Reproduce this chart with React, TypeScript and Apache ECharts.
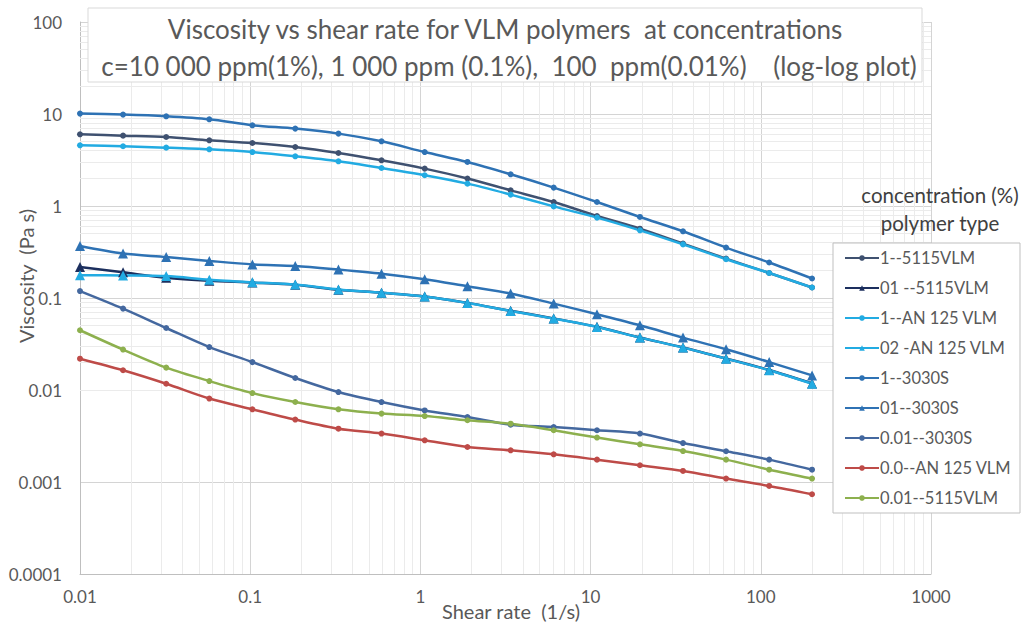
import React, { useEffect, useRef } from "react";
import * as echarts from "echarts";

// Shear rates of the sweep (1/s)
const shearRate = [0.01, 0.0179, 0.0321, 0.0575, 0.103, 0.184, 0.33, 0.591, 1.06, 1.89, 3.39, 6.07, 10.9, 19.5, 34.9, 62.5, 112, 200];

// Viscosity (Pa s) for each polymer / concentration
const visc1_5115VLM = [6.02, 5.82, 5.62, 5.18, 4.84, 4.38, 3.77, 3.14, 2.55, 1.99, 1.48, 1.105, 0.779, 0.567, 0.39, 0.268, 0.187, 0.13];
const visc01_5115VLM = [0.217, 0.19, 0.166, 0.154, 0.147, 0.139, 0.123, 0.114, 0.104, 0.0885, 0.0725, 0.06, 0.0486, 0.0372, 0.029, 0.022, 0.0165, 0.0118];
const visc1_AN125VLM = [4.57, 4.46, 4.31, 4.13, 3.86, 3.47, 3.06, 2.59, 2.16, 1.75, 1.33, 0.99, 0.748, 0.544, 0.383, 0.264, 0.187, 0.13];
const visc02_AN125VLM = [0.177, 0.176, 0.173, 0.158, 0.148, 0.14, 0.124, 0.114, 0.104, 0.0883, 0.0722, 0.0597, 0.0484, 0.0371, 0.0289, 0.0219, 0.0164, 0.0117];
const visc1_3030S = [10.1, 9.85, 9.44, 8.76, 7.54, 6.94, 6.12, 5.05, 3.86, 3.01, 2.21, 1.585, 1.105, 0.76, 0.531, 0.353, 0.243, 0.163];
const visc01_3030S = [0.367, 0.304, 0.279, 0.253, 0.232, 0.223, 0.204, 0.184, 0.16, 0.134, 0.112, 0.0869, 0.0665, 0.0505, 0.0371, 0.0277, 0.0201, 0.0144];
const visc001_3030S = [0.119, 0.0767, 0.0472, 0.0293, 0.0201, 0.0135, 0.0095, 0.0074, 0.006, 0.00509, 0.0042, 0.00396, 0.00365, 0.00336, 0.00265, 0.00216, 0.00175, 0.00136];
const visc00_AN125VLM = [0.0219, 0.0164, 0.0117, 0.00807, 0.00617, 0.00477, 0.0038, 0.00336, 0.00284, 0.0024, 0.00221, 0.002, 0.00175, 0.00152, 0.00132, 0.00109, 0.000906, 0.000736];
const visc001_5115VLM = [0.0446, 0.0275, 0.0175, 0.0125, 0.00927, 0.00741, 0.00617, 0.00554, 0.00521, 0.00469, 0.0043, 0.00365, 0.00304, 0.00257, 0.00217, 0.00175, 0.00136, 0.00109];

const seriesNames = [
  "1--5115VLM",
  "01 --5115VLM",
  "1--AN 125 VLM",
  "02 -AN 125 VLM",
  "1--3030S",
  "01--3030S",
  "0.01--3030S",
  "0.0--AN 125 VLM",
  "0.01--5115VLM",
];
const seriesValues = [
  visc1_5115VLM,
  visc01_5115VLM,
  visc1_AN125VLM,
  visc02_AN125VLM,
  visc1_3030S,
  visc01_3030S,
  visc001_3030S,
  visc00_AN125VLM,
  visc001_5115VLM,
];
const seriesColors = ["#3F5170", "#1C2F5E", "#22ABE2", "#22ABE2", "#2E72B4", "#2E72B4", "#44689F", "#BE4B48", "#8DB04E"];
const seriesSymbols = ["circle", "triangle", "circle", "triangle", "circle", "triangle", "circle", "circle", "circle"];

// Axis tick labels (one per decade)
const xTickLabels = ["0.01", "0.1", "1", "10", "100", "1000"];
const yTickLabels = ["0.0001", "0.001", "0.01", "0.1", "1", "10", "100"];

// Minor log gridlines: 2..9 inside every decade
const minorFactors = [2, 3, 4, 5, 6, 7, 8, 9];
const xDecades = [0.01, 0.1, 1, 10, 100];
const yDecades = [0.0001, 0.001, 0.01, 0.1, 1, 10];

const titleLine1 = "Viscosity vs shear rate for VLM polymers  at concentrations";
const titleLine2 = "c=10 000 ppm(1%), 1 000 ppm (0.1%),  100  ppm(0.01%)    (log-log plot)";

const FONT = "Lato, 'Noto Sans', sans-serif";
const TEXT = "#595959";

export default function App() {
  const ref = useRef<HTMLDivElement>(null);

  useEffect(() => {
    if (!ref.current) return;
    const chart = echarts.init(ref.current, undefined, { renderer: "svg" });

    const xMinor: number[] = [];
    xDecades.forEach((d) => minorFactors.forEach((f) => xMinor.push(d * f)));
    const yMinor: number[] = [];
    yDecades.forEach((d) => minorFactors.forEach((f) => yMinor.push(d * f)));

    const dataSeries = seriesNames.map((name, i) => ({
      name,
      type: "line",
      data: shearRate.map((x, j) => [x, seriesValues[i][j]]),
      smooth: 0.3,
      symbol: seriesSymbols[i],
      symbolSize: seriesSymbols[i] === "triangle" ? 10 : 6,
      lineStyle: { width: 2.5, color: seriesColors[i] },
      itemStyle: { color: seriesColors[i], borderWidth: 0 },
      z: 3,
    }));

    const option: any = {
      animation: false,
      backgroundColor: "#ffffff",
      textStyle: { fontFamily: FONT },
      grid: { left: 80, top: 22, width: 851, height: 552, containLabel: false },
      xAxis: {
        type: "log",
        logBase: 10,
        min: 0.01,
        max: 1000,
        splitNumber: 5,
        axisLine: { show: true, lineStyle: { color: "#bfbfbf", width: 1 } },
        axisTick: { show: false },
        splitLine: { show: true, lineStyle: { color: "#d4d4d4", width: 1 } },
        axisLabel: {
          color: TEXT,
          fontSize: 17,
          fontFamily: FONT,
          margin: 14,
          formatter: (v: number) => xTickLabels[Math.round(Math.log10(v)) + 2],
        },
      },
      yAxis: {
        type: "log",
        logBase: 10,
        min: 0.0001,
        max: 100,
        splitNumber: 6,
        axisLine: { show: true, lineStyle: { color: "#bfbfbf", width: 1 } },
        axisTick: { show: false },
        splitLine: { show: true, lineStyle: { color: "#d4d4d4", width: 1 } },
        axisLabel: {
          color: TEXT,
          fontSize: 17,
          fontFamily: FONT,
          margin: 18,
          formatter: (v: number) => yTickLabels[Math.round(Math.log10(v)) + 4],
        },
      },
      legend: {
        orient: "vertical",
        left: 844,
        top: 249.5,
        padding: 0,
        itemWidth: 34,
        itemHeight: 7,
        itemGap: 13,
        data: seriesNames,
        textStyle: { color: TEXT, fontSize: 16.5, lineHeight: 17, fontFamily: FONT, padding: [0, 0, 0, -4] },
        z: 20,
      },
      graphic: [
        {
          type: "rect",
          z: 10,
          shape: { x: 88, y: 8, width: 834, height: 74 },
          style: { fill: "#ffffff", stroke: "#d9d9d9", lineWidth: 1 },
        },
        {
          type: "text",
          z: 11,
          x: 505,
          y: 29,
          style: { text: titleLine1, fill: TEXT, fontSize: 26, fontFamily: FONT, align: "center", verticalAlign: "middle" },
        },
        {
          type: "text",
          z: 11,
          x: 509,
          y: 66,
          style: { text: titleLine2, fill: TEXT, fontSize: 26, fontFamily: FONT, align: "center", verticalAlign: "middle" },
        },
        {
          type: "rect",
          z: 10,
          shape: { x: 833, y: 243, width: 187, height: 270 },
          style: { fill: "#ffffff", stroke: "#bfbfbf", lineWidth: 1 },
        },
        {
          type: "text",
          z: 11,
          x: 940,
          y: 195,
          style: { text: "concentration (%)", fill: "#404040", fontSize: 20.5, fontFamily: FONT, align: "center", verticalAlign: "middle" },
        },
        {
          type: "text",
          z: 11,
          x: 940,
          y: 223,
          style: { text: "polymer type", fill: "#404040", fontSize: 20.5, fontFamily: FONT, align: "center", verticalAlign: "middle" },
        },
        {
          type: "text",
          z: 11,
          x: 511,
          y: 611,
          style: { text: "Shear rate  (1/s)", fill: TEXT, fontSize: 20, fontFamily: FONT, align: "center", verticalAlign: "middle" },
        },
        {
          type: "text",
          z: 11,
          x: 26,
          y: 276,
          rotation: Math.PI / 2,
          style: { text: "Viscosity  (Pa s)", fill: TEXT, fontSize: 20, fontFamily: FONT, align: "center", verticalAlign: "middle" },
        },
      ],
      series: [
        {
          name: "minor-grid",
          type: "line",
          data: [],
          silent: true,
          z: 1,
          markLine: {
            silent: true,
            z: 1,
            symbol: ["none", "none"],
            label: { show: false },
            lineStyle: { color: "#ebebeb", width: 1, type: "solid" },
            emphasis: { disabled: true },
            data: [...xMinor.map((v) => ({ xAxis: v })), ...yMinor.map((v) => ({ yAxis: v }))],
          },
        },
        ...dataSeries,
      ],
    };

    chart.setOption(option);
    return () => chart.dispose();
  }, []);

  return (
    <div
      ref={ref}
      style={{ position: "fixed", left: 0, top: 0, width: 1026, height: 625, background: "#fff" }}
    />
  );
}
